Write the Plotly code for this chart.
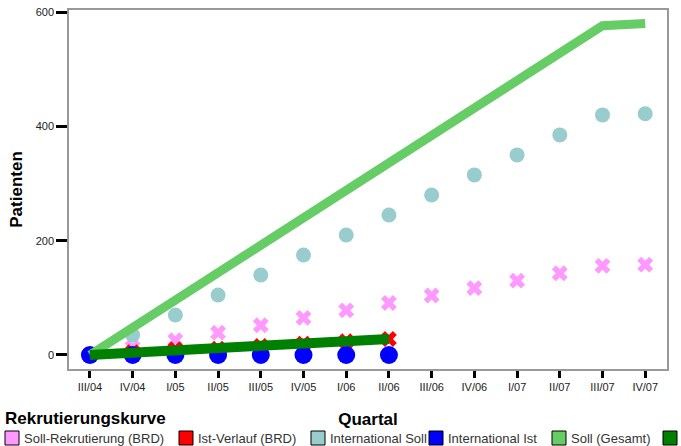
import plotly.graph_objects as go

quartale = ["III/04", "IV/04", "I/05", "II/05", "III/05", "IV/05", "I/06", "II/06",
            "III/06", "IV/06", "I/07", "II/07", "III/07", "IV/07"]
soll_brd = [0, 13, 26, 39, 52, 65, 78, 91, 104, 117, 130, 143, 156, 158]
ist_brd = [0, 5, 10, 11, 16, 20, 24, 28]
intl_soll = [0, 35, 70, 105, 140, 175, 210, 245, 280, 315, 350, 385, 420, 422]
intl_ist = [0, 0, 0, 0, 0, 0, 0, 0]
soll_gesamt = [0, 48, 96, 144, 192, 240, 288, 336, 384, 432, 480, 528, 576, 580]
ist_gesamt = [0, 5, 10, 11, 16, 20, 24, 28]

names = ["Soll-Rekrutierung (BRD)", "Ist-Verlauf (BRD)", "International Soll",
         "International Ist", "Soll (Gesamt)", "Ist (Gesamt)"]
colors = ["#FF99FF", "#FF0000", "#99CCCC", "#0000FF", "#66CC66", "#008000"]

W, H = 681, 446
ML, MR, MT, MB = 69, 14, 10, 77
PW, PH = W - ML - MR, H - MT - MB


def px(x):
    return (x - ML) / PW


def py(y):
    return (H - MB - y) / PH


fig = go.Figure()
fig.add_trace(go.Scatter(x=quartale, y=soll_brd, mode="markers", name=names[0],
                         marker=dict(symbol="x", size=14, color=colors[0], line=dict(width=0)),
                         showlegend=False))
fig.add_trace(go.Scatter(x=quartale[:len(ist_brd)], y=ist_brd, mode="markers", name=names[1],
                         marker=dict(symbol="x", size=14, color=colors[1], line=dict(width=0)),
                         showlegend=False))
fig.add_trace(go.Scatter(x=quartale, y=intl_soll, mode="markers", name=names[2],
                         marker=dict(symbol="circle", size=15, color=colors[2]),
                         showlegend=False))
fig.add_trace(go.Scatter(x=quartale[:len(intl_ist)], y=intl_ist, mode="markers", name=names[3],
                         marker=dict(symbol="circle", size=18, color=colors[3]),
                         showlegend=False))
fig.add_trace(go.Scatter(x=quartale, y=soll_gesamt, mode="lines", name=names[4],
                         line=dict(color=colors[4], width=9), showlegend=False))
fig.add_trace(go.Scatter(x=quartale[:len(ist_gesamt)], y=ist_gesamt, mode="lines", name=names[5],
                         line=dict(color=colors[5], width=10), showlegend=False))

# manual legend (row runs off the right edge, as in the original:
# the last entry's label lies beyond the page, only its swatch is visible)
box_x = [5, 179, 311, 429, 552, 663]
shapes = []
annotations = []
for i, (bx, nm, c) in enumerate(zip(box_x, names, colors)):
    shapes.append(dict(type="rect", xref="paper", yref="paper",
                       x0=px(bx), x1=px(bx + 14), y0=py(445), y1=py(431),
                       fillcolor=c, line=dict(color="#000000", width=1)))
    if bx + 17 < W - 20:
        annotations.append(dict(xref="paper", yref="paper", x=px(bx + 17), y=py(438),
                                text=nm, showarrow=False, xanchor="left", yanchor="middle",
                                font=dict(family="Liberation Sans, Arial, sans-serif", size=13,
                                          color="#333333")))
annotations.append(dict(xref="paper", yref="paper", x=px(3), y=py(418),
                        text="<b>Rekrutierungskurve</b>", showarrow=False,
                        xanchor="left", yanchor="middle",
                        font=dict(family="Liberation Sans, Arial, sans-serif", size=17,
                                  color="#000000")))

fig.update_layout(
    width=W, height=H,
    margin=dict(l=ML, r=MR, t=MT, b=MB, autoexpand=False),
    plot_bgcolor="white", paper_bgcolor="white",
    showlegend=False,
    shapes=shapes, annotations=annotations,
    font=dict(family="Liberation Sans, Arial, sans-serif", color="#000000"),
)
fig.update_xaxes(
    range=[-0.49, 13.51], showgrid=False, zeroline=False, automargin=False,
    showline=True, linecolor="#999999", linewidth=1.5, mirror=True,
    ticks="outside", ticklen=7, tickwidth=3, tickcolor="#000000",
    tickfont=dict(size=11, color="#222222"),
    title=dict(text="<b>Quartal</b>", font=dict(size=17), standoff=21),
)
fig.update_yaxes(
    range=[-24.5, 603.5], showgrid=False, zeroline=False, automargin=False,
    showline=True, linecolor="#999999", linewidth=1.5, mirror=True,
    ticks="outside", ticklen=11, tickwidth=3, tickcolor="#000000",
    tickvals=[0, 200, 400, 600],
    tickfont=dict(size=11, color="#222222"),
    title=dict(text="<b>Patienten</b>", font=dict(size=17), standoff=9),
)

fig.write_html("out.html", config={"displayModeBar": False},
               post_script="document.body.style.margin='0';document.body.style.padding='0';")
